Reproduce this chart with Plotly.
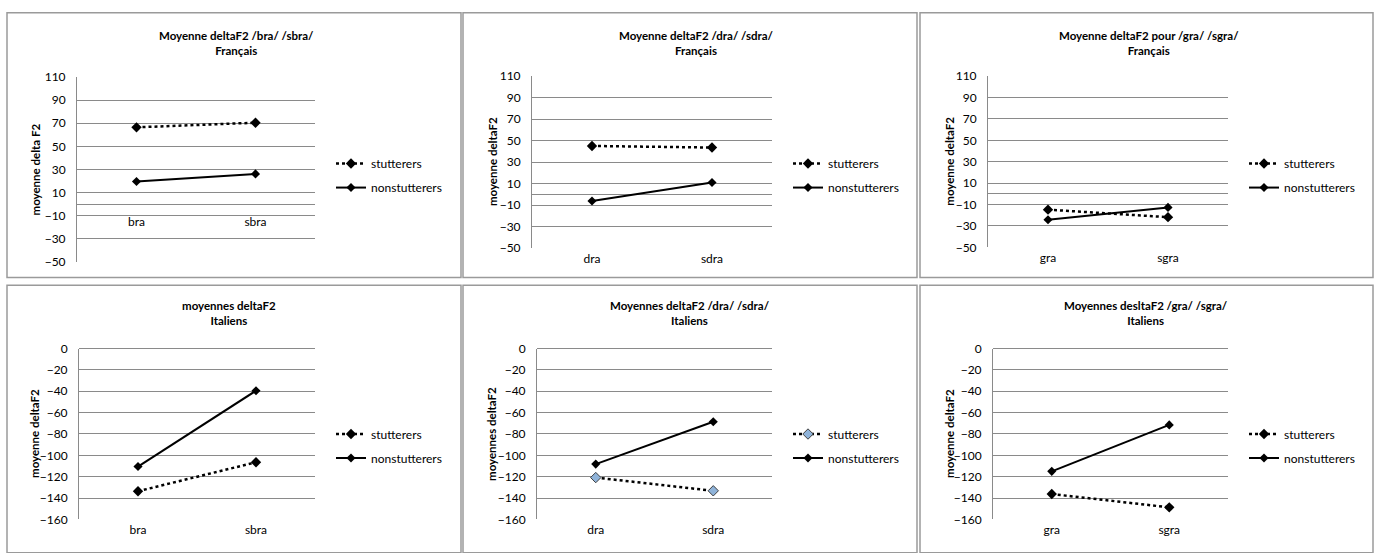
import plotly.graph_objects as go

W, H = 1378, 553

# ---------------- data ----------------
cats_b = ["bra", "sbra"]
cats_d = ["dra", "sdra"]
cats_g = ["gra", "sgra"]

fr_b_stutterers = [66.5, 70.5]
fr_b_nonstutterers = [19.6, 26.2]
fr_d_stutterers = [45.0, 43.5]
fr_d_nonstutterers = [-6.2, 11.0]
fr_g_stutterers = [-14.8, -21.8]
fr_g_nonstutterers = [-24.2, -12.7]

it_b_stutterers = [-133.6, -106.5]
it_b_nonstutterers = [-110.5, -39.5]
it_d_stutterers = [-120.8, -133.2]
it_d_nonstutterers = [-108.2, -68.5]
it_g_stutterers = [-136.2, -148.7]
it_g_nonstutterers = [-115.0, -71.5]

titles = [
    ("Moyenne deltaF2 /bra/ /sbra/", "Français"),
    ("Moyenne deltaF2 /dra/ /sdra/", "Français"),
    ("Moyenne deltaF2 pour /gra/ /sgra/", "Français"),
    ("moyennes deltaF2", "Italiens"),
    ("Moyennes deltaF2 /dra/ /sdra/", "Italiens"),
    ("Moyennes desltaF2 /gra/ /sgra/", "Italiens"),
]
ytitles = ["moyenne delta F2", "moyenne deltaF2", "moyenne deltaF2",
           "moyenne deltaF2", "moyennes deltaF2", "moyenne deltaF2"]
series_names = ["stutterers", "nonstutterers"]

panels_data = [
    (cats_b, fr_b_stutterers, fr_b_nonstutterers),
    (cats_d, fr_d_stutterers, fr_d_nonstutterers),
    (cats_g, fr_g_stutterers, fr_g_nonstutterers),
    (cats_b, it_b_stutterers, it_b_nonstutterers),
    (cats_d, it_d_stutterers, it_d_nonstutterers),
    (cats_g, it_g_stutterers, it_g_nonstutterers),
]

# ---------------- layout geometry (pixels) ----------------
frames = [(7, 5, 461, 277), (463, 5, 917, 277), (920, 5, 1373, 277),
          (7, 285, 461, 560), (463, 285, 917, 560), (920, 285, 1373, 560)]
plots = [(77, 71, 315, 261), (532, 70, 772, 246.7), (988, 70, 1228, 246),
         (79, 350, 315, 525.7), (537, 350, 772, 525.7), (993, 350, 1228, 525.7)]
yranges = [(-50, 110)] * 3 + [(-160, 0)] * 3
tick0s = [10] * 3 + [0] * 3
title_cx = [236, 696, 1149, 229, 690, 1146]
title_cy = [36] * 3 + [313] * 3
ytitle_x = [35, 492, 950, 35, 492, 950]
legend_pos = [(338, 155), (795, 155), (1251, 155), (338, 433), (795, 433), (1251, 433)]

FONT = "Lato"
GRID = "#8a8a8a"


def px(x):
    return x / W


def py(y):
    return 1 - y / H


fig = go.Figure()
layout = dict(
    width=W, height=H,
    margin=dict(l=0, r=0, t=0, b=0),
    paper_bgcolor="white", plot_bgcolor="white",
    font=dict(family=FONT, size=11, color="black"),
    showlegend=True,
)
shapes = []
annotations = []

for i, (cats, stut, non) in enumerate(panels_data):
    n = i + 1
    sfx = "" if n == 1 else str(n)
    xa, ya = "x" + sfx, "y" + sfx
    leg = "legend" + sfx
    x0, y0, x1, y1 = plots[i]
    ymin, ymax = yranges[i]

    stut_marker = dict(symbol="diamond", size=8, color="black")
    if i == 4:
        stut_marker = dict(symbol="diamond", size=8, color="#8fb3d9",
                           line=dict(color="#404040", width=1))
    fig.add_trace(go.Scatter(
        x=cats, y=stut, name=series_names[0], mode="lines+markers",
        line=dict(color="black", width=2.5, dash="dot"),
        marker=stut_marker, xaxis=xa, yaxis=ya, legend=leg,
        legendgroup=f"s{n}"))
    fig.add_trace(go.Scatter(
        x=cats, y=non, name=series_names[1], mode="lines+markers",
        line=dict(color="black", width=2),
        marker=dict(symbol="diamond", size=7, color="black"),
        xaxis=xa, yaxis=ya, legend=leg, legendgroup=f"n{n}"))

    xaxis = dict(
        domain=[px(x0), px(x1)], range=[-0.5, 1.5], type="category",
        showgrid=False, zeroline=False, showline=False, ticks="",
        tickfont=dict(family=FONT, size=12, color="black"),
        fixedrange=True,
    )
    if i == 0:
        zero_px = y0 + (ymax - 0) / (ymax - ymin) * (y1 - y0)
        xaxis.update(anchor="free", position=py(zero_px), ticklabelstandoff=9)
    else:
        xaxis.update(anchor=ya, ticklabelstandoff=2)
    layout["xaxis" + sfx] = xaxis
    layout["yaxis" + sfx] = dict(
        domain=[py(y1), py(y0)], range=[ymin, ymax], anchor=xa,
        tick0=tick0s[i], dtick=20, showgrid=True, gridcolor=GRID, gridwidth=1,
        zeroline=True, zerolinecolor=GRID, zerolinewidth=1,
        showline=True, linecolor=GRID, linewidth=1, ticks="",
        ticklabelstandoff=8,
        tickfont=dict(family=FONT, size=12, color="black"),
        fixedrange=True,
    )

    # chart frame
    fx0, fy0, fx1, fy1 = frames[i]
    shapes.append(dict(type="rect", xref="paper", yref="paper",
                       x0=px(fx0), x1=px(fx1), y0=py(fy1), y1=py(fy0),
                       line=dict(color="#9a9a9a", width=1.5), layer="below"))

    # chart title
    annotations.append(dict(
        text="<b>" + titles[i][0] + "<br>" + titles[i][1] + "</b>",
        xref="paper", yref="paper",
        x=px(title_cx[i]), y=py(title_cy[i]), xanchor="center", yanchor="middle",
        showarrow=False, font=dict(family=FONT, size=11.5, color="black")))

    # y-axis title
    annotations.append(dict(
        text="<b>" + ytitles[i] + "</b>", xref="paper", yref="paper",
        x=px(ytitle_x[i]), y=py((y0 + y1) / 2), xanchor="center", yanchor="middle",
        textangle=-90, showarrow=False, font=dict(family=FONT, size=11.5, color="black")))

    lx, ly = legend_pos[i]
    layout[leg] = dict(
        x=px(lx - 7), y=py(ly - 10), xanchor="left", yanchor="top",
        bgcolor="rgba(0,0,0,0)", borderwidth=0, tracegroupgap=5,
        font=dict(family=FONT, size=12, color="black"),
        itemclick=False, itemdoubleclick=False,
    )

layout["shapes"] = shapes
layout["annotations"] = annotations
fig.update_layout(**layout)

fig.write_html(
    "out.html",
    config={"displayModeBar": False},
    post_script="document.body.style.margin='0';document.body.style.padding='0';"
                "document.documentElement.style.overflow='hidden';",
)
